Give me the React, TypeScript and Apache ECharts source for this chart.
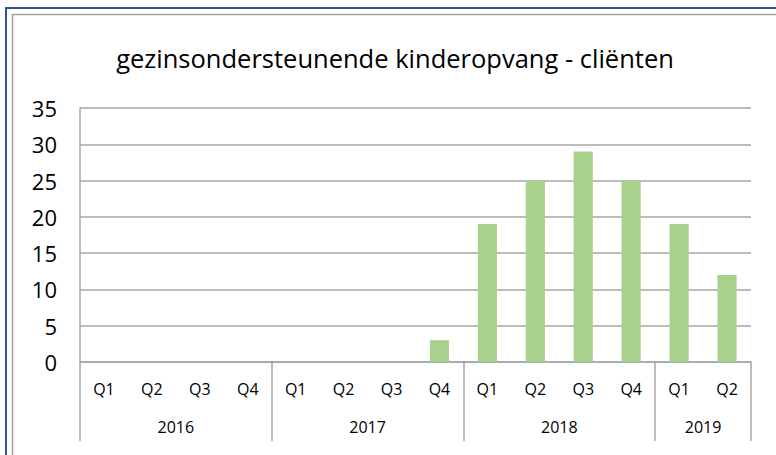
import React, { useEffect, useRef } from "react";
import * as echarts from "echarts";

const quarters = ["Q1","Q2","Q3","Q4","Q1","Q2","Q3","Q4","Q1","Q2","Q3","Q4","Q1","Q2"];
const values = [0, 0, 0, 0, 0, 0, 0, 3, 19, 25, 29, 25, 19, 12];
const years = ["2016", "2017", "2018", "2019"];
const yearQuarterCounts = [4, 4, 4, 2];
const yTicks = { min: 0, max: 35, interval: 5 };
const title = "gezinsondersteunende kinderopvang - cliënten";

export default function App() {
  const ref = useRef<HTMLDivElement>(null);
  useEffect(() => {
    if (!ref.current) return;
    const chart = echarts.init(ref.current, undefined, { renderer: "svg" });
    const totalHalves = quarters.length * 2;
    const yearData: string[] = [];
    const tickIdx = new Set<number>();
    const labelIdx = new Set<number>();
    for (let i = 0; i <= totalHalves; i++) yearData.push("");
    let pos = 0;
    tickIdx.add(0);
    years.forEach((y, i) => {
      const n = yearQuarterCounts[i] * 2;
      const c = pos + n / 2;
      yearData[c] = y;
      labelIdx.add(c);
      pos += n;
      tickIdx.add(pos);
    });
    const gray = "#A6A6A6";
    chart.setOption({
      animation: false,
      textStyle: { fontFamily: "Open Sans" },
      title: {
        text: title,
        left: 390,
        textAlign: "center",
        top: 40,
        textStyle: { fontFamily: "Open Sans", fontSize: 25.5, fontWeight: "normal", color: "#000" },
      },
      graphic: [
        { type: "rect", shape: { x: 6, y: 8, width: 820, height: 520 }, style: { fill: "none", stroke: "#2F5597", lineWidth: 2 } },
        { type: "rect", shape: { x: 12.5, y: 14.5, width: 820, height: 520 }, style: { fill: "none", stroke: "#A0A0A0", lineWidth: 1.5 } },
      ],
      grid: { left: 80, right: 25, top: 108, bottom: 93 },
      xAxis: [
        {
          type: "category",
          data: quarters,
          position: "bottom",
          axisLine: { show: true, lineStyle: { color: gray, width: 1.5 } },
          axisTick: { show: false },
          axisLabel: { interval: 0, margin: 19, fontSize: 16, color: "#000", fontFamily: "Open Sans" },
        },
        {
          type: "category",
          data: yearData,
          boundaryGap: false,
          position: "bottom",
          axisLine: { show: false },
          axisTick: {
            show: true,
            length: 79,
            interval: (i: number) => tickIdx.has(i),
            lineStyle: { color: gray, width: 1.5 },
          },
          axisLabel: {
            interval: (i: number) => labelIdx.has(i),
            margin: 57,
            fontSize: 16,
            color: "#000",
            fontFamily: "Open Sans",
          },
        },
      ],
      yAxis: {
        type: "value",
        min: yTicks.min,
        max: yTicks.max,
        interval: yTicks.interval,
        axisLine: { show: true, lineStyle: { color: gray, width: 1.5 } },
        axisTick: { show: false },
        axisLabel: { fontSize: 22, color: "#000", margin: 23, fontFamily: "Open Sans" },
        splitLine: { lineStyle: { color: gray, width: 1.5 } },
      },
      series: [
        {
          type: "bar",
          data: values,
          xAxisIndex: 0,
          barWidth: "40%",
          itemStyle: { color: "#A9D18E" },
        },
      ],
    });
    return () => chart.dispose();
  }, []);
  return (
    <div
      ref={ref}
      style={{ position: "absolute", left: 0, top: 0, width: 776, height: 455 }}
    />
  );
}
